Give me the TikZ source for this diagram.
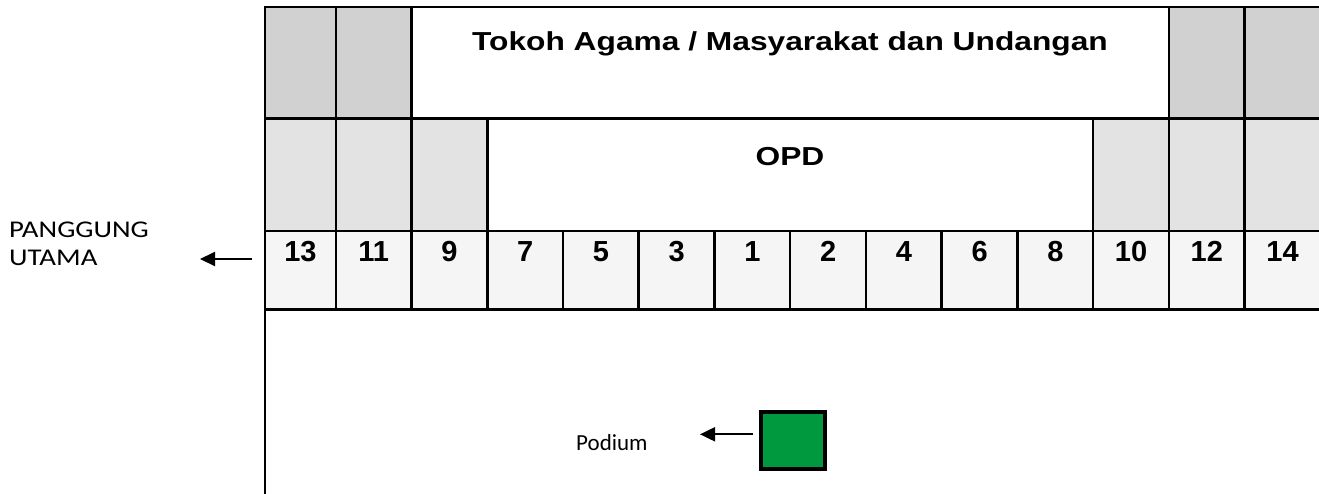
\documentclass[tikz,border=0pt]{standalone}
\usepackage{fontspec}
\setmainfont{Liberation Sans}
\newfontfamily\hdrfont{Liberation Sans}[FakeStretch=1.22]
\newfontfamily\calfont{Carlito}[FakeStretch=1.2]
\newfontfamily\calplain{Carlito}
\usetikzlibrary{arrows.meta}
\definecolor{gA}{HTML}{D1D1D1}
\definecolor{gB}{HTML}{E3E3E3}
\definecolor{gC}{HTML}{F5F5F5}
\definecolor{podgreen}{RGB}{0,153,61}
\begin{document}
\begin{tikzpicture}[x=1pt,y=-1pt,
  cell/.style={draw=black, line width=2.5pt, inner sep=0pt, outer sep=0pt, anchor=north west},
  hdr/.style={font=\hdrfont\bfseries\fontsize{26}{26}\selectfont, inner sep=0pt, anchor=base},
  numtxt/.style={font=\bfseries\fontsize{29}{29}\selectfont, inner sep=0pt, anchor=base},
  lbl/.style={font=\calfont\fontsize{24}{24}\selectfont, inner sep=0pt, anchor=base west},
  podlbl/.style={font=\calplain\fontsize{23}{23}\selectfont, inner sep=0pt, anchor=base west},
  arr/.style={line width=2pt, -{Triangle[length=15pt,width=14pt]}}]
\useasboundingbox (0,0) rectangle (1319,493);
% row 1
\foreach \xa/\xb/\fc [count=\i] in {265/336/gA, 336/411.5/gA, 411.5/1169/white, 1169/1244.7/gA, 1244.7/1320.5/gA}
  \node[cell, fill=\fc, minimum width={\xb pt-\xa pt}, minimum height=111.3pt] (ra\i) at (\xa,7) {};
% row 2
\foreach \xa/\xb/\fc [count=\i] in {265/336/gB, 336/411.5/gB, 411.5/487.3/gB, 487.3/1093.2/white, 1093.2/1169/gB, 1169/1244.7/gB, 1244.7/1320.5/gB}
  \node[cell, fill=\fc, minimum width={\xb pt-\xa pt}, minimum height=112.7pt] (rb\i) at (\xa,118.3) {};
% row 3
\foreach \xa/\xb/\n [count=\i] in {265/336/13, 336/411.5/11, 411.5/487.3/9, 487.3/563/7, 563/638.7/5, 638.7/714.5/3, 714.5/790.2/1, 790.2/866/2, 866/941.7/4, 941.7/1017.5/6, 1017.5/1093.2/8, 1093.2/1169/10, 1169/1244.7/12, 1244.7/1320.5/14}{
  \node[cell, fill=gC, minimum width={\xb pt-\xa pt}, minimum height=78.3pt] (rc\i) at (\xa,231) {};
  \node[numtxt] (num\i) at ({(\xa+\xb)/2},261.7) {\n};
}
\node[hdr] (tokoh) at (790,50.5) {Tokoh Agama / Masyarakat dan Undangan};
\node[hdr] (opd) at (790,165) {OPD};
% left line down
\coordinate (lbot) at (265,495);
\draw[line width=2.5pt] (rc1.south west) -- (lbot);
% panggung
\node[lbl] (pg1) at (9,237) {PANGGUNG};
\node[lbl] (pg2) at (9,265) {UTAMA};
\coordinate (pgs) at (252,259);
\coordinate (pge) at (200,259);
\draw[arr] (pgs) -- (pge);
% podium
\node[draw=black, line width=4pt, fill=podgreen, minimum width=63.4pt, minimum height=57pt, inner sep=0pt] (podsq) at (793,440.5) {};
\node[podlbl] (podtxt) at (576,450) {Podium};
\coordinate (podtip) at (700,434.3);
\draw[arr, shorten <=6pt] ([yshift=6.2pt]podsq.west) -- (podtip);
\end{tikzpicture}
\end{document}
